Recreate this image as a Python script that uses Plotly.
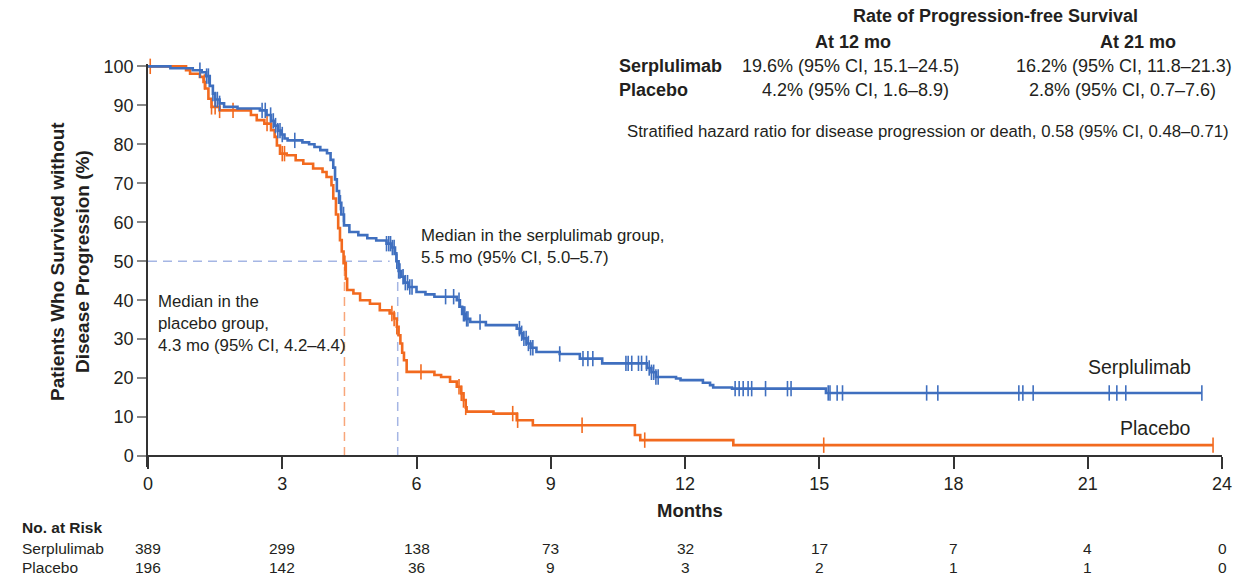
import numpy as np
import plotly.graph_objects as go

# ---------------- data ----------------
serp_t = [0, 0.5, 1.0, 1.2, 1.3, 1.38, 1.45, 1.5, 1.6, 1.7, 2.0, 2.5, 2.65, 2.75, 2.82, 2.9, 2.97,
          3.05, 3.12, 3.45, 3.6, 3.72, 3.85, 4.0, 4.08, 4.14, 4.18, 4.22, 4.27, 4.32, 4.38, 4.5,
          4.7, 4.9, 5.1, 5.33, 5.45, 5.52, 5.55, 5.6, 5.66, 5.72, 5.82, 6.0, 6.2, 6.4, 6.9, 6.97,
          7.02, 7.1, 7.2, 7.55, 8.24, 8.31, 8.38, 8.46, 8.55, 8.68, 9.2, 9.65, 10.15, 11.15, 11.25,
          11.35, 11.8, 11.9, 12.4, 12.56, 12.63, 13.05, 15.15, 23.55]
serp_s = [100, 99.5, 99, 98.5, 97.5, 95, 93, 91.5, 90.5, 89.6, 89.2, 88.7, 87.5, 86, 84.8, 83.5, 82.5,
          81.5, 81, 80.5, 80, 79.3, 78.5, 77.7, 76, 74, 71, 68, 65, 62, 59.2, 57.5,
          56.7, 55.9, 55.3, 54.5, 53.5, 52, 50, 47.5, 46, 44.5, 43.4, 42.1, 41.5, 40.9, 40, 38.3,
          36.5, 35.2, 34.4, 33.6, 32.7, 31.5, 30.2, 28.9, 27.8, 26.7, 26.2, 25, 23.8, 22.6, 21.5,
          20.3, 19.9, 19.5, 18.8, 18.2, 17.6, 17.3, 16.2, 16.2]
serp_cens = [1.16, 1.31, 1.35, 1.45, 1.5, 1.55, 1.6, 2.55, 2.62, 2.74, 2.8, 2.85, 2.9, 2.95, 3.0,
             3.28, 4.3, 4.37, 5.33, 5.38, 5.42, 5.46, 5.5, 5.56, 5.6, 5.63, 5.7, 5.75, 5.8, 5.85,
             5.9, 6.65, 6.83, 6.95, 7.05, 7.08, 7.12, 7.15, 7.42, 8.3, 8.35, 8.4, 8.45, 8.5, 8.55,
             8.6, 9.2, 9.72, 9.83, 9.94, 10.68, 10.73, 10.81, 10.96, 11.03, 11.14, 11.2, 11.25,
             11.3, 11.35, 11.4, 13.12, 13.21, 13.3, 13.41, 13.49, 13.8, 14.29, 14.37, 15.2, 15.24,
             15.4, 15.52, 17.4, 17.65, 19.46, 19.55, 19.78, 21.48, 21.65, 21.85, 23.55]

plac_t = [0, 0.85, 0.94, 1.16, 1.24, 1.28, 1.35, 1.42, 1.6, 2.3, 2.43, 2.6, 2.75, 2.83, 2.88, 2.95,
          3.1, 3.3, 3.47, 3.69, 3.9, 3.99, 4.1, 4.14, 4.2, 4.25, 4.29, 4.33, 4.37, 4.42, 4.45,
          4.59, 4.74, 4.96, 5.18, 5.4, 5.5, 5.56, 5.6, 5.64, 5.68, 5.72, 5.78, 6.4, 6.55, 6.75,
          6.9, 7.0, 7.05, 7.1, 7.12, 7.72, 8.24, 8.6, 10.88, 11.0, 13.08, 23.8]
plac_s = [100, 99, 98.1, 97.3, 96, 94.3, 91.7, 89.6, 88.7, 87.5, 86.2, 85.3, 83.6, 81.9, 79.7, 77.6,
          77.2, 75.9, 75, 73.8, 72.9, 71.6, 69.5, 66.1, 62, 58.5, 55.4, 52.5, 49.5, 45.5, 42.6,
          41.7, 40, 39.1, 37.4, 36.6, 35.3, 33.2, 31, 28.9, 26.5, 24.6, 21.6, 20.8, 20.3, 19.1,
          17.8, 16.1, 14.4, 12.5, 11.4, 10.9, 9.2, 7.9, 5.4, 4.1, 2.8, 2.8]
plac_cens = [0.05, 1.26, 1.42, 1.5, 1.6, 1.9, 2.66, 3.0, 3.05, 4.4, 5.45, 5.5, 5.56, 6.1, 6.95, 7.0,
             7.05, 7.1, 8.15, 8.26, 9.7, 11.1, 15.1, 23.8]

median_line_x = [4.39, 5.58]      # placebo, serplulimab
median_line_top = [50, 46]
median_h_end = 5.4

risk_times = [0, 3, 6, 9, 12, 15, 18, 21, 24]
risk_serp = [389, 299, 138, 73, 32, 17, 7, 4, 0]
risk_plac = [196, 142, 36, 9, 3, 2, 1, 1, 0]

BLUE = "#3f6fbf"
ORANGE = "#f26a1f"
LBLUE = "#a5b6e4"
LORANGE = "#f8a67a"
TXT = "#231f20"
FONT = "Liberation Sans, Arial, sans-serif"


def step_at(times, surv, x):
    t = np.asarray(times)
    s = np.asarray(surv)
    idx = np.searchsorted(t, np.asarray(x), side="right") - 1
    return s[np.clip(idx, 0, len(s) - 1)]


fig = go.Figure()

# median reference lines
fig.add_trace(go.Scatter(x=[0, median_h_end], y=[50, 50], mode="lines",
                         line=dict(color=LBLUE, width=1.5, dash="9px,6px"), hoverinfo="skip"))
fig.add_trace(go.Scatter(x=[median_line_x[0]] * 2, y=[0, median_line_top[0]], mode="lines",
                         line=dict(color=LORANGE, width=1.5, dash="9px,6px"), hoverinfo="skip"))
fig.add_trace(go.Scatter(x=[median_line_x[1]] * 2, y=[0, median_line_top[1]], mode="lines",
                         line=dict(color=LBLUE, width=1.5, dash="9px,6px"), hoverinfo="skip"))

for t, s, cens, col in [(plac_t, plac_s, plac_cens, ORANGE), (serp_t, serp_s, serp_cens, BLUE)]:
    fig.add_trace(go.Scatter(x=t, y=s, mode="lines", line=dict(color=col, width=2.6, shape="hv"),
                             hoverinfo="skip"))
    fig.add_trace(go.Scatter(x=cens, y=step_at(t, s, cens), mode="markers", cliponaxis=False,
                             marker=dict(symbol="line-ns-open", size=11, color=col,
                                         line=dict(color=col, width=1.6)),
                             hoverinfo="skip"))

ann = []


def add(text, x, y, xref="paper", yref="paper", size=17, bold=False, xanchor="center",
        yanchor="middle", align="center", angle=0):
    ann.append(dict(text=f"<b>{text}</b>" if bold else text, x=x, y=y, xref=xref, yref=yref,
                    showarrow=False, xanchor=xanchor, yanchor=yanchor, align=align,
                    textangle=angle, font=dict(family=FONT, size=size, color=TXT)))


# pixel helpers (plot area: x 148..1222, y 64..467)
def px(xp):
    return (xp - 148) / 1074


def py(yp):
    return (467 - yp) / 403


# top-right table
add("Rate of Progression-free Survival", px(995), py(16), size=18, bold=True)
add("At 12 mo", px(853), py(42), size=18, bold=True)
add("At 21 mo", px(1138), py(42), size=18, bold=True)
add("Serplulimab", px(617), py(66), size=18, bold=True, xanchor="left")
add("Placebo", px(617), py(90), size=18, bold=True, xanchor="left")
add("19.6% (95% CI, 15.1–24.5)", px(850), py(66), size=18)
add("16.2% (95% CI, 11.8–21.3)", px(1124), py(66), size=18)
add("4.2% (95% CI, 1.6–8.9)", px(855), py(90), size=18)
add("2.8% (95% CI, 0.7–7.6)", px(1122), py(90), size=18)
add("Stratified hazard ratio for disease progression or death, 0.58 (95% CI, 0.48–0.71)",
    px(928), py(131), size=16.8)

# median annotations
add("Median in the serplulimab group,<br>5.5 mo (95% CI, 5.0–5.7)", px(419), py(246),
    size=16.8, xanchor="left", align="left")
add("Median in the<br>placebo group,<br>4.3 mo (95% CI, 4.2–4.4)", px(156), py(323),
    size=16.8, xanchor="left", align="left")

# curve labels
add("Serplulimab", px(1193), py(367), size=19.5, xanchor="right")
add("Placebo", px(1193), py(428), size=19.5, xanchor="right")

# axis titles
add("Patients Who Survived without<br>Disease Progression (%)", px(70), py(261), size=19,
    bold=True, angle=-90)
add("Months", px(690), py(510), size=18.5, bold=True)

# risk table
add("No. at Risk", px(20), py(527), size=15.5, bold=True, xanchor="left")
add("Serplulimab", px(20), py(548), size=15.5, xanchor="left")
add("Placebo", px(20), py(567), size=15.5, xanchor="left")
for i, t in enumerate(risk_times):
    add(str(risk_serp[i]), t, py(548), xref="x", size=15.5)
    add(str(risk_plac[i]), t, py(567), xref="x", size=15.5)

zero_pos = (0 - (-2.8)) / (100.6 - (-2.8))

fig.update_layout(
    width=1248, height=581,
    margin=dict(l=148, r=26, t=64, b=114),
    paper_bgcolor="white", plot_bgcolor="white",
    showlegend=False,
    annotations=ann,
    xaxis=dict(range=[0, 24], tickvals=risk_times, ticks="outside", ticklen=12, tickwidth=1.5,
               tickcolor="#333", showline=True, linecolor="#333", linewidth=1.5,
               showgrid=False, zeroline=False, anchor="free", position=zero_pos,
               tickfont=dict(family=FONT, size=18, color=TXT)),
    yaxis=dict(range=[-2.8, 100.6], tickvals=list(range(0, 101, 10)), ticks="outside",
               ticklen=9, tickwidth=1.5, tickcolor="#888", showline=True, linecolor="#333",
               linewidth=1.5, showgrid=False, zeroline=False,
               tickfont=dict(family=FONT, size=18, color=TXT)),
)

fig.write_html("out.html", config={"displayModeBar": False},
               post_script="document.body.style.margin='0px';document.body.style.overflow='hidden';")
